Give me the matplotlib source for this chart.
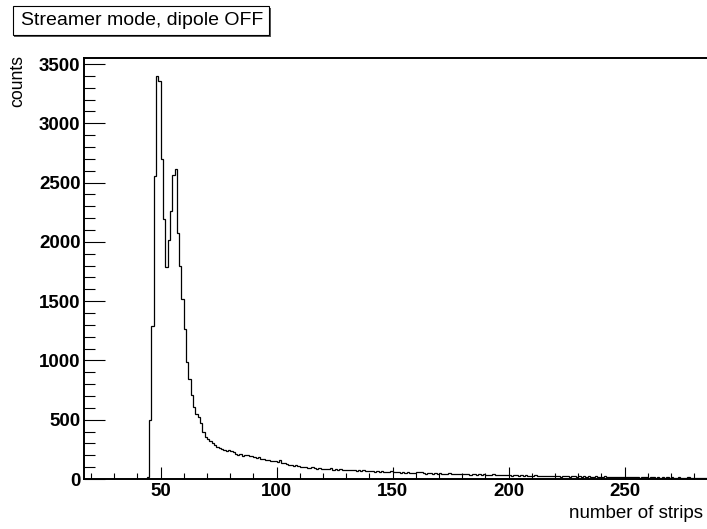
import numpy as np
import matplotlib
matplotlib.use("Agg")
import matplotlib.pyplot as plt
from matplotlib.patches import Rectangle
from matplotlib.ticker import MultipleLocator

# ---- data (bin width 1, first bin starts at 44) ----
first_bin = 44
counts_44_79 = [20, 497, 1291, 2558, 3398, 3356, 2696, 2193, 1789, 2013,
                2260, 2561, 2612, 2078, 1794, 1516, 1261, 988, 840, 708,
                609, 545, 520, 474, 400, 356, 334, 323, 301, 290,
                270, 258, 250, 246, 238, 242]
counts_80_139 = [236, 228, 214, 206, 212, 196, 202, 200, 192, 196,
                 186, 176, 182, 168, 172, 160, 164, 154, 150, 156,
                 146, 160, 138, 135, 125, 118, 122, 112, 115, 106,
                 104, 98, 104, 95, 92, 98, 90, 86, 92, 84,
                 88, 82, 85, 90, 80, 84, 78, 82, 76, 80,
                 74, 76, 72, 78, 70, 72, 68, 74, 66, 70]
counts_140_199 = [64, 66, 62, 68, 60, 64, 58, 62, 56, 66,
                  58, 56, 60, 54, 56, 52, 58, 50, 54, 48,
                  62, 56, 60, 50, 46, 50, 48, 44, 48, 46,
                  50, 44, 46, 42, 48, 44, 40, 46, 42, 44,
                  40, 38, 42, 36, 40, 38, 34, 40, 36, 38,
                  34, 36, 32, 38, 34, 30, 34, 32, 36, 30]
counts_200_289 = [34, 28, 32, 30, 26, 32, 28, 30, 26, 28,
                  24, 30, 26, 24, 28, 22, 26, 24, 28, 22,
                  24, 26, 20, 24, 22, 26, 20, 22, 24, 18,
                  22, 20, 24, 18, 22, 20, 18, 22, 16, 20,
                  18, 22, 16, 18, 20, 16, 18, 14, 20, 16,
                  18, 14, 16, 18, 14, 16, 12, 18, 14, 16,
                  12, 14, 16, 12, 14, 10, 16, 12, 14, 10,
                  14, 12, 10, 14, 12, 10, 12, 14, 10, 12,
                  10, 12, 8, 12, 10, 8, 10, 8, 10, 8]

title_text = "Streamer mode, dipole OFF"
xlabel_text = "number of strips"
ylabel_text = "counts"

counts = np.array(counts_44_79 + counts_80_139 + counts_140_199 + counts_200_289, dtype=float)
edges = np.arange(first_bin, first_bin + len(counts) + 1)

W, H = 707, 529
fig = plt.figure(figsize=(W / 100, H / 100), dpi=100)
fig.patch.set_facecolor("white")

# axes placement (pixels -> figure fraction)
left_px, right_px, top_px, bottom_px = 84, 717.5, 58, 479
ax = fig.add_axes([left_px / W, 1 - bottom_px / H,
                   (right_px - left_px) / W, (bottom_px - top_px) / H])

ax.stairs(counts, edges, color="black", linewidth=0.9)

ax.set_xlim(17, 290)
ax.set_ylim(0, 3551)

ax.xaxis.set_major_locator(MultipleLocator(50))
ax.xaxis.set_minor_locator(MultipleLocator(10))
ax.yaxis.set_major_locator(MultipleLocator(500))
ax.yaxis.set_minor_locator(MultipleLocator(100))

ax.tick_params(axis="x", which="major", direction="in", length=8.6, width=0.8,
               pad=3, top=False)
ax.tick_params(axis="x", which="minor", direction="in", length=4.3, width=0.8, top=False)
ax.tick_params(axis="y", which="major", direction="in", length=15, width=0.8,
               pad=2.5, right=False)
ax.tick_params(axis="y", which="minor", direction="in", length=7.9, width=0.8, right=False)

for lab in ax.get_xticklabels() + ax.get_yticklabels():
    lab.set_fontfamily("Liberation Sans")
    lab.set_fontweight("bold")
    lab.set_fontsize(13.5)

for s in ["left", "bottom", "top"]:
    ax.spines[s].set_linewidth(1.4)
    ax.spines[s].set_color("black")
ax.spines["right"].set_visible(False)

# axis titles
fig.text(17.5 / W, 1 - 55 / H, ylabel_text, rotation=90, ha="center", va="top",
         fontsize=12.7, family="Liberation Sans")
fig.text(702.7 / W, 1 - 518 / H, xlabel_text, ha="right", va="baseline",
         fontsize=13.5, family="Liberation Sans")

# title box with small shadow
bx0, by0, bx1, by1 = 12.7, 6, 269.3, 35
fig.patches.append(Rectangle(((bx0 + 1.5) / W, 1 - (by1 + 1.5) / H),
                             (bx1 - bx0) / W, (by1 - by0) / H,
                             transform=fig.transFigure, facecolor="#555555",
                             edgecolor="none", zorder=1))
fig.patches.append(Rectangle((bx0 / W, 1 - by1 / H),
                             (bx1 - bx0) / W, (by1 - by0) / H,
                             transform=fig.transFigure, facecolor="white",
                             edgecolor="black", linewidth=0.8, zorder=2))
fig.text(20.7 / W, 1 - 20.5 / H, title_text, ha="left", va="center",
         fontsize=14, family="Liberation Sans", zorder=3)

fig.savefig("out.png", dpi=100)
